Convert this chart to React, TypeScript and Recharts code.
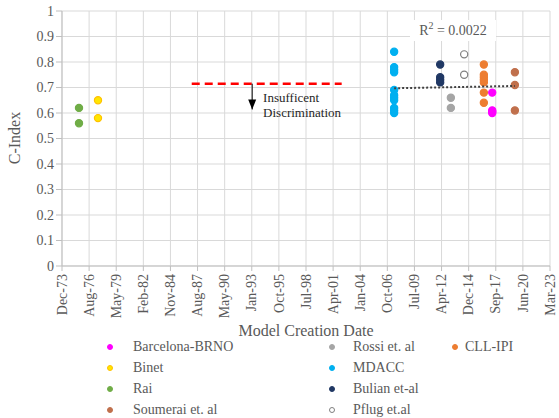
import React from 'react';
import { ScatterChart, Scatter, XAxis, YAxis, CartesianGrid } from 'recharts';

// study dates (model creation) and reported C-index values
const barcelonaBrno = { date: '2017-05-14', values: [0.68, 0.61, 0.605, 0.6] };
const binet = { date: '1977-07-22', values: [0.65, 0.58] };
const rai = { date: '1975-08-21', values: [0.62, 0.56] };
const soumerai = { date: '2019-08-28', values: [0.76, 0.71, 0.61] };
const rossi = { date: '2013-03-10', values: [0.66, 0.62] };
const mdacc = { date: '2007-06-18', values: [0.84, 0.78, 0.77, 0.76, 0.69, 0.67, 0.66, 0.65, 0.62, 0.61, 0.6] };
const bulian = { date: '2012-02-10', values: [0.79, 0.74, 0.73, 0.72] };
const pflug = { date: '2014-07-14', values: [0.83, 0.75] };
const cllIpi = { date: '2016-07-09', values: [0.79, 0.75, 0.74, 0.73, 0.72, 0.68, 0.64] };

// excel-style linear trendline over the recent studies
const trendDates = ['2007-06-18', '2019-08-28'];
const trendValues = [0.697, 0.706];

// insufficient discrimination threshold
const thresholdDates = ['1987-01-08', '2002-03-01'];
const thresholdValue = 0.715;
const arrowDate = '1993-02-15';
const arrowValues = [0.715, 0.614];
const noteDate = '1994-03-24';
const noteValue = 0.644;

// axis: day numbers (since 1970) every 1000 days, excel serial 27000..45000
const xMin = 1431;
const xMax = 19431;
const xTicks = Array.from({ length: 19 }, (_, i) => xMin + i * 1000);
const yTicks = [0, 0.1, 0.2, 0.3, 0.4, 0.5, 0.6, 0.7, 0.8, 0.9, 1];

const MONTHS = ['Jan', 'Feb', 'Mar', 'Apr', 'May', 'Jun', 'Jul', 'Aug', 'Sep', 'Oct', 'Nov', 'Dec'];
const DAY_MS = 86400000;
const toDay = (iso: string) => Math.round(Date.parse(iso) / DAY_MS);

const fmtDate = (day: number) => {
  const d = new Date(day * DAY_MS);
  return `${MONTHS[d.getUTCMonth()]}-${String(d.getUTCFullYear() % 100).padStart(2, '0')}`;
};

const FONT = '"Liberation Serif", serif';
const TEXT = '#595959';

type Study = { date: string; values: number[] };
const points = (s: Study) => s.values.map((v) => ({ x: toDay(s.date), y: v }));

const series = [
  { name: 'Barcelona-BRNO', study: barcelonaBrno, fill: '#ff00ff', stroke: '#ff00ff' },
  { name: 'Binet', study: binet, fill: '#ffe600', stroke: '#ffc000' },
  { name: 'Rai', study: rai, fill: '#70ad47', stroke: '#70ad47' },
  { name: 'Soumerai et. al', study: soumerai, fill: '#c0704c', stroke: '#c0704c' },
  { name: 'Rossi et. al', study: rossi, fill: '#a5a5a5', stroke: '#a5a5a5' },
  { name: 'MDACC', study: mdacc, fill: '#00b0f0', stroke: '#00b0f0' },
  { name: 'Bulian et-al', study: bulian, fill: '#203864', stroke: '#203864' },
  { name: 'Pflug et.al', study: pflug, fill: '#ffffff', stroke: '#7f7f7f' },
  { name: 'CLL-IPI', study: cllIpi, fill: '#ed7d31', stroke: '#ed7d31' },
];

const legendCols = [
  { dotX: 110, textX: 133 },
  { dotX: 332, textX: 353 },
  { dotX: 455, textX: 465 },
];
const legendRows = [347, 368, 389, 410];

const XTick = (props: any) => {
  const { x, y, payload } = props;
  return (
    <g transform={`translate(${x},${y + 1})`}>
      <text
        transform="rotate(-90)"
        textAnchor="end"
        dy="0.33em"
        fill={TEXT}
        fontSize={14}
        style={{ fontFamily: FONT }}
      >
        {fmtDate(payload.value)}
      </text>
    </g>
  );
};

const YTick = (props: any) => {
  const { x, y, payload } = props;
  const v = payload.value as number;
  return (
    <text x={x} y={y} dy="0.35em" textAnchor="end" fill={TEXT} fontSize={14} style={{ fontFamily: FONT }}>
      {v === 0 || v === 1 ? String(v) : v.toFixed(1)}
    </text>
  );
};

const noShape = () => <g />;

export default function App() {
  const threshold = thresholdDates.map((d) => ({ x: toDay(d), y: thresholdValue }));
  const arrow = arrowValues.map((v) => ({ x: toDay(arrowDate), y: v }));
  const trend = trendDates.map((d, i) => ({ x: toDay(d), y: trendValues[i] }));
  const note = [{ x: toDay(noteDate), y: noteValue }];

  return (
    <div style={{ position: 'absolute', left: 0, top: 0, width: 559, height: 418, background: '#fff', fontFamily: FONT }}>
      <ScatterChart width={559} height={418} margin={{ top: 11, right: 9, bottom: 0, left: 0 }} style={{ fontFamily: FONT }}>
        <CartesianGrid stroke="#d9d9d9" />
        <XAxis
          type="number"
          dataKey="x"
          domain={[xMin, xMax]}
          ticks={xTicks}
          interval={0}
          height={152}
          tickSize={5}
          stroke="#bfbfbf"
          tick={<XTick />}
          allowDataOverflow
        />
        <YAxis
          type="number"
          dataKey="y"
          domain={[0, 1]}
          ticks={yTicks}
          interval={0}
          width={62}
          tickSize={6}
          stroke="#bfbfbf"
          tick={<YTick />}
        />

        <Scatter
          data={threshold}
          line={{ stroke: '#ff0000', strokeWidth: 2.5, strokeDasharray: '8 5' }}
          shape={noShape}
          isAnimationActive={false}
        />
        <Scatter
          data={arrow}
          line={{ stroke: '#000000', strokeWidth: 1 }}
          shape={(p: any) =>
            p.payload.y < thresholdValue ? (
              <path d={`M${p.cx - 4},${p.cy - 10} L${p.cx + 4},${p.cy - 10} L${p.cx},${p.cy} Z`} fill="#000" />
            ) : (
              <g />
            )
          }
          isAnimationActive={false}
        />
        <Scatter
          data={note}
          shape={(p: any) => (
            <text x={p.cx} y={p.cy} fontSize={13} fill="#262626" style={{ fontFamily: FONT }}>
              <tspan x={p.cx}>Insufficent</tspan>
              <tspan x={p.cx} dy={15.6}>Discrimination</tspan>
            </text>
          )}
          isAnimationActive={false}
        />

        {series.map((s) => (
          <Scatter
            key={s.name}
            name={s.name}
            data={points(s.study)}
            shape={(p: any) => <circle cx={p.cx} cy={p.cy} r={3.6} fill={s.fill} stroke={s.stroke} strokeWidth={1.2} />}
            isAnimationActive={false}
          />
        ))}

        <Scatter
          data={trend}
          line={{ stroke: '#404040', strokeWidth: 2, strokeDasharray: '2 2' }}
          shape={noShape}
          isAnimationActive={false}
        />
      </ScatterChart>

      {/* trendline fit label */}
      <div
        style={{
          position: 'absolute',
          left: 410,
          top: 20,
          width: 86,
          height: 21,
          background: '#fff',
          color: TEXT,
          fontSize: 14,
          lineHeight: '21px',
          textAlign: 'center',
        }}
      >
        R<sup style={{ fontSize: 10, lineHeight: 0 }}>2</sup> = 0.0022
      </div>

      <div
        style={{
          position: 'absolute',
          left: 15,
          top: 138,
          transform: 'translate(-50%, -50%) rotate(-90deg)',
          whiteSpace: 'nowrap',
          color: TEXT,
          fontSize: 16,
        }}
      >
        C-Index
      </div>
      <div
        style={{
          position: 'absolute',
          left: 306,
          top: 331,
          transform: 'translate(-50%, -50%)',
          whiteSpace: 'nowrap',
          color: TEXT,
          fontSize: 16,
        }}
      >
        Model Creation Date
      </div>

      {series.map((s, i) => {
        const col = legendCols[Math.floor(i / 4)];
        const y = legendRows[i % 4];
        return (
          <React.Fragment key={s.name}>
            <div
              style={{
                position: 'absolute',
                left: col.dotX - 3,
                top: y - 3,
                width: 6,
                height: 6,
                boxSizing: 'border-box',
                borderRadius: '50%',
                background: s.fill,
                border: `1px solid ${s.stroke}`,
              }}
            />
            <div
              style={{
                position: 'absolute',
                left: col.textX,
                top: y - 9,
                lineHeight: '18px',
                whiteSpace: 'nowrap',
                color: TEXT,
                fontSize: 14,
              }}
            >
              {s.name}
            </div>
          </React.Fragment>
        );
      })}
    </div>
  );
}
